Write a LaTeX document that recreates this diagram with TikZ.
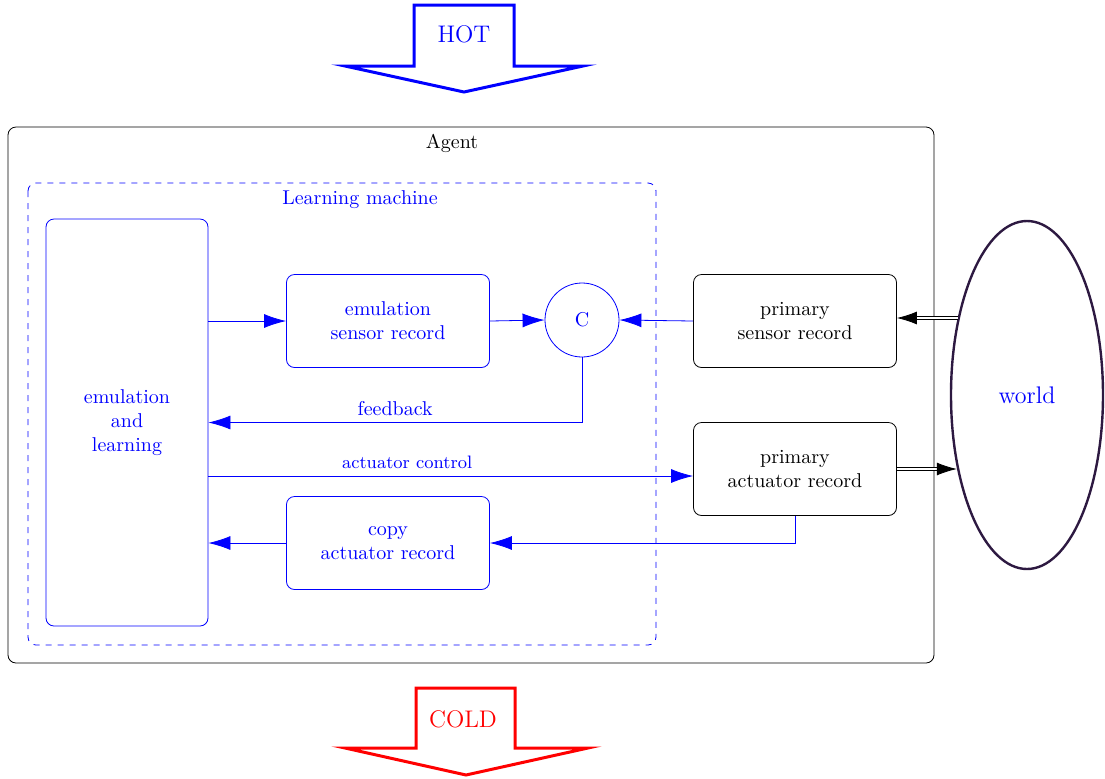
\documentclass[tikz,border=0pt]{standalone}
\usetikzlibrary{arrows.meta,shapes.geometric}
\definecolor{worldline}{RGB}{45,25,65}

\begin{document}
\begin{tikzpicture}[x=.5pt,y=-.5pt,
    rec/.style={draw,rounded corners=4pt,align=center,inner sep=0pt,
      minimum width=101.5pt,minimum height=46.5pt},
    lm/.style={blue,text=blue},
    tip/.style={-{Latex[length=11pt,width=7pt]}},
    dbl/.style={double,double distance=1.2pt,-{Latex[length=10pt,width=6.5pt]}},
    flowarrow/.style={line width=1.5pt,miter limit=20}]
  \useasboundingbox (0,0) rectangle (1105,778);
  \draw[flowarrow,blue] (414,66) -- (414,5) -- (514,5) -- (514,66) -- (583,66)
    -- (464,92) -- (345,66) -- cycle;
  \node[blue,font=\large] (hot) at (464,34) {HOT};
  \draw[flowarrow,red] (416,748) -- (416,688) -- (515,688) -- (515,748) -- (588,748)
    -- (466,775) -- (345,748) -- cycle;
  \node[red,font=\large] (cold) at (463,719) {COLD};
  \draw[rounded corners=4pt] (8,127) rectangle (934,663);
  \node (agent) at (452,143) {Agent};
  \draw[lm,dashed,rounded corners=4pt] (28,183) rectangle (656,645);
  \node[lm] (lmach) at (360,200) {Learning machine};
  \node[rec,lm,minimum width=81pt,minimum height=203.5pt] (eml) at (127,422.5)
    {emulation\\and\\learning};
  \node[rec,lm] (esr) at (388,321) {emulation\\sensor record};
  \node[rec,lm] (car) at (388,543) {copy\\actuator record};
  \node[draw,circle,lm,minimum size=37pt,inner sep=0pt] (c) at (582,320) {C};
  \node[rec] (psr) at (795,321) {primary\\sensor record};
  \node[rec] (par) at (795,469) {primary\\actuator record};
  \node[draw=worldline,ellipse,line width=1.2pt,minimum width=76pt,
    minimum height=174pt,text=blue,font=\large] (world) at (1027,395) {world};
  \draw[lm,tip] (eml.east |- esr.west) -- (esr.west);
  \draw[lm,tip] (esr.east) -- (c.west);
  \draw[lm,tip] (psr.west) -- (c.east);
  \draw[lm,tip] (c.south) |- (eml.east) node[pos=.75,above] {feedback};
  \draw[lm,tip] ([yshift=-26.75pt]eml.east) -- ([yshift=-26.75pt]eml.east -| par.west)
    node[pos=.41,above,font=\small] {actuator control};
  \draw[lm,tip] (par.south) |- (car.east);
  \draw[lm,tip] (car.west) -- (eml.east |- car.west);
  \draw[dbl] (world.132.5) -- (world.132.5 -| psr.east);
  \draw[dbl] (par.east) -- (par.east -| world.226);
\end{tikzpicture}
\end{document}
